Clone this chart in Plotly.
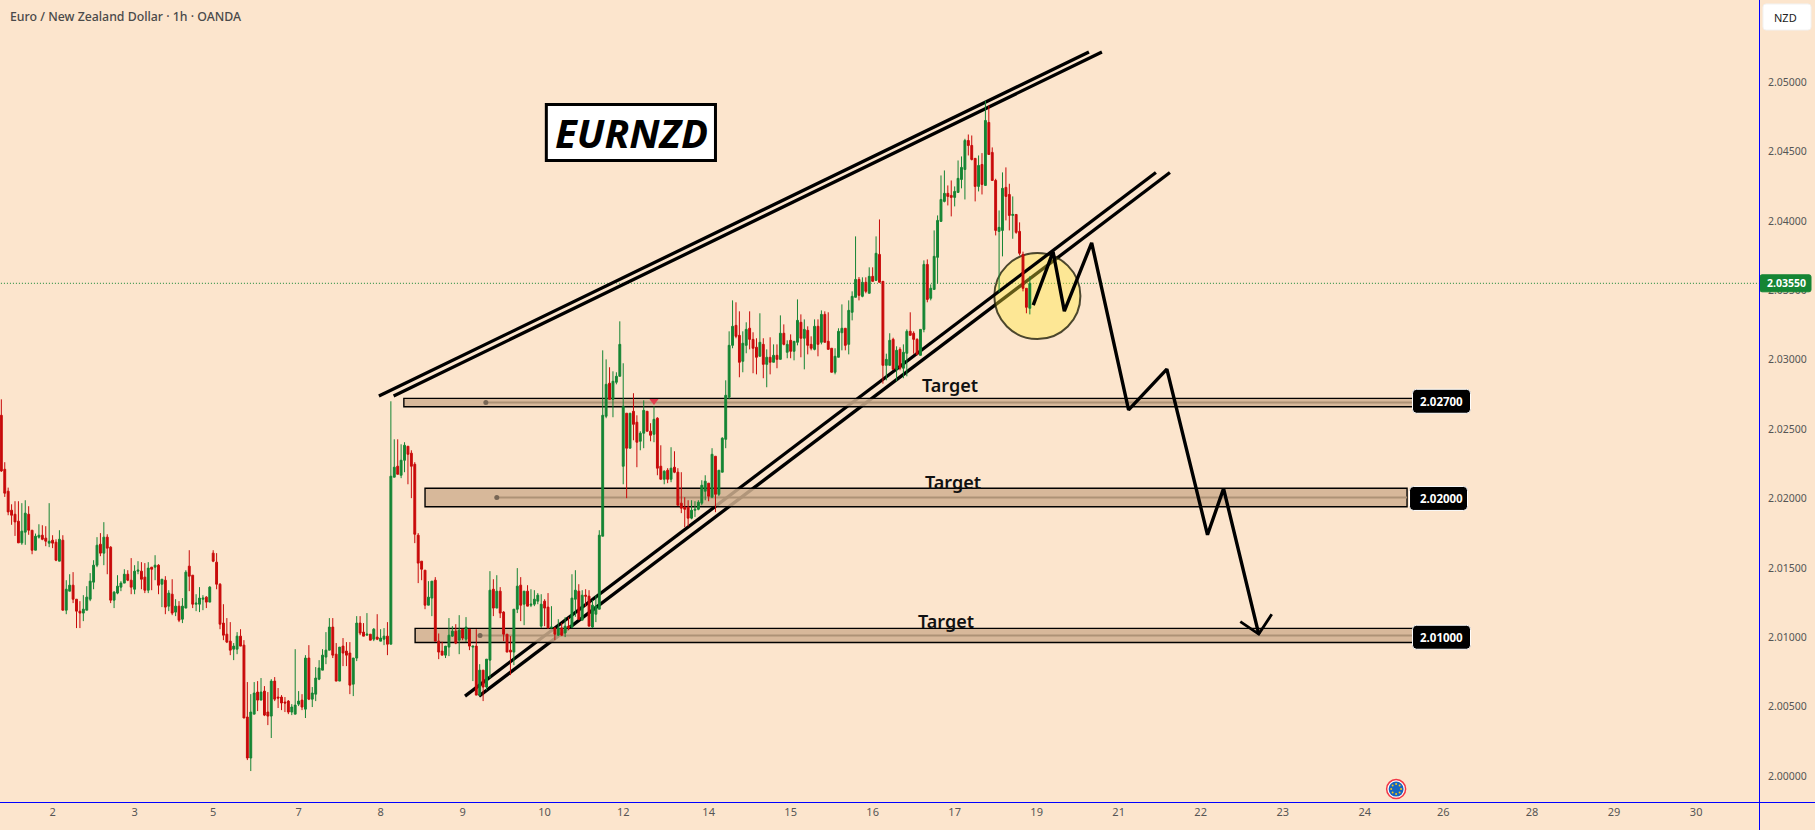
import numpy as np
import plotly.graph_objects as go

# EUR/NZD hourly candles, prices stored in points above the 2.00000 handle
BASE_PRICE = 2.0
POINT = 1e-5

open_pts = [
    2599,2210,2052,1915,1886,1836,1680,1757,1886,1771,
    1627,1721,1735,1714,1678,1699,1685,1548,1699,1195,
    1332,1375,1274,1188,1174,1195,1274,1397,1519,1670,
    1606,1721,1649,1267,1318,1361,1390,1454,1411,1346,
    1476,1476,1433,1339,1505,1505,1519,1382,1411,1224,
    1310,1181,1224,1130,1210,1512,1447,1238,1238,1274,
    1289,1253,1606,1541,1382,1102,1022,972,914,914,
    1008,943,425,130,446,605,547,612,461,432,
    684,569,569,533,540,461,446,518,547,482,
    850,554,590,698,763,857,907,1073,878,684,
    936,900,886,662,850,1102,1037,1015,1022,986,
    1001,972,986,1008,950,2153,2232,2167,2275,2376,
    2326,2246,1735,1548,1483,1231,1282,1411,972,900,
    871,929,1008,1044,979,1058,986,1058,929,936,
    583,763,641,835,1346,1210,1332,1181,1022,907,
    893,1202,1375,1238,1332,1231,1238,1260,1080,1260,
    1217,1066,1066,1015,1066,1030,1080,1073,1274,1332,
    1123,1303,1296,1073,1166,1202,1728,2592,2830,2714,
    2837,2880,2232,2614,2362,2628,2549,2412,2470,2628,
    2484,2462,2578,2232,2138,2203,2138,2225,2189,1966,
    1937,1937,1858,1915,1922,1966,2052,2110,2009,2304,
    2030,2189,2426,2729,3103,3247,3175,2988,3103,3226,
    3146,3089,3024,3110,2966,3017,2981,3031,3002,3190,
    3053,3139,3060,3125,3269,3154,3211,3110,3074,3240,
    3125,3326,3132,3082,2909,3017,3194,3226,3110,3341,
    3449,3578,3456,3557,3478,3600,3571,3758,3564,2959,
    2959,3146,2930,3074,2938,3046,3204,3190,3146,3031,
    3218,3686,3442,3506,3737,3996,4140,4198,4183,4169,
    4205,4298,4370,4579,4543,4450,4248,4406,4255,4709,
    4493,4291,3924,3931,4241,4190,4039,4046,3924,3758,
    3514,3370,
]
high_pts = [
    2714,2261,2078,1958,1980,1980,1966,1987,1944,1771,
    1747,1814,1807,1800,1966,1735,1706,1771,1735,1411,
    1454,1469,1274,1260,1303,1368,1462,1555,1721,1750,
    1829,1742,1656,1332,1447,1404,1490,1483,1570,1519,
    1548,1541,1534,1541,1505,1591,1526,1418,1440,1339,
    1418,1274,1260,1282,1483,1627,1447,1310,1361,1303,
    1296,1368,1627,1606,1390,1238,1138,1109,958,1037,
    1058,979,677,590,677,684,706,648,605,698,
    713,634,583,569,547,518,914,612,590,871,
    943,641,785,835,914,1037,1138,1138,958,929,
    994,965,965,850,1152,1152,1102,1174,1022,1066,
    1166,1058,1066,1109,2700,2426,2426,2390,2405,2376,
    2347,2261,1750,1548,1483,1404,1404,1433,1027,967,
    936,1138,1080,1094,1159,1058,1145,1058,936,1058,
    806,763,842,1476,1418,1447,1361,1188,1022,1008,
    1202,1498,1433,1332,1375,1346,1339,1318,1310,1274,
    1318,1224,1073,1130,1102,1145,1145,1454,1483,1382,
    1339,1346,1339,1267,1303,1771,3067,3002,2945,2916,
    2909,3276,2974,2614,2614,2758,2599,2484,2707,2628,
    2542,2664,2585,2383,2203,2218,2369,2340,2218,2189,
    2009,1987,1987,1980,1987,2131,2167,2110,2362,2304,
    2203,2441,2851,3204,3427,3413,3348,3204,3269,3348,
    3197,3154,3334,3154,3074,3161,3110,3110,3319,3254,
    3139,3182,3132,3434,3326,3290,3240,3168,3290,3290,
    3355,3348,3341,3082,3082,3226,3398,3226,3427,3492,
    3888,3595,3593,3593,3665,3665,3888,4010,3564,3043,
    3190,3158,3096,3089,3110,3218,3341,3204,3154,3218,
    3715,3722,3542,3931,4039,4327,4363,4255,4291,4248,
    4435,4464,4591,4622,4615,4450,4471,4488,4867,4831,
    4529,4303,4075,4349,4385,4267,4176,4046,3989,3778,
    3514,3600,
]
low_pts = [
    2191,2011,1879,1810,1730,1680,1666,1666,1738,1598,
    1627,1711,1699,1656,1649,1642,1548,1548,1195,1166,
    1332,1246,1066,1066,1116,1195,1260,1346,1505,1584,
    1519,1454,1246,1210,1310,1332,1390,1404,1310,1310,
    1454,1346,1318,1318,1339,1411,1310,1217,1166,1188,
    1159,1152,1109,1102,1210,1332,1210,1188,1181,1195,
    1210,1253,1541,1346,1058,979,958,871,835,878,
    936,418,115,36,446,468,547,432,367,274,
    540,490,475,461,446,439,446,504,475,418,
    547,497,540,691,763,806,907,850,684,684,
    792,792,590,576,828,1015,1008,1015,979,972,
    979,972,943,871,950,2153,2174,2146,2189,2102,
    2002,1678,1390,1411,1202,1231,1152,972,842,871,
    850,864,1003,950,878,979,965,907,684,583,
    576,540,619,706,1152,1210,1138,972,893,727,
    799,1174,1116,1087,1224,1217,1224,1238,1066,1080,
    1066,1066,979,1008,1008,1001,1051,1066,1147,1123,
    1123,1219,1080,1066,1109,1202,1728,2578,2714,2585,
    2822,2880,2102,2002,2362,2419,2225,2347,2362,2484,
    2412,2405,2167,2138,2102,2110,2117,2182,1951,1894,
    1793,1800,1850,1867,1915,1951,1987,1980,2002,1901,
    2016,2189,2362,2714,3082,3154,2873,2909,3046,3074,
    2902,2894,3024,2866,2801,2894,2981,2938,3002,3103,
    3010,3010,2995,3103,3017,2930,3038,3067,3067,3024,
    3110,3125,3074,2909,2894,3017,3067,3067,3038,3283,
    3449,3427,3449,3478,3478,3564,3571,3557,2827,2851,
    2959,2930,2844,2923,2866,2880,3175,3043,3031,3031,
    3197,3413,3427,3506,3547,3996,4133,4111,4032,4104,
    4205,4234,4154,4471,4435,4140,4212,4190,4255,4478,
    4291,3895,3485,3744,4003,3931,3871,3907,3751,3492,
    3334,3326,
]
close_pts = [
    2198,2038,1903,1879,1831,1680,1764,1894,1771,1627,
    1728,1735,1706,1692,1692,1678,1555,1706,1195,1346,
    1375,1274,1188,1174,1202,1289,1404,1519,1663,1606,
    1721,1642,1267,1325,1368,1390,1454,1411,1361,1476,
    1483,1418,1339,1498,1490,1519,1375,1418,1217,1318,
    1174,1224,1123,1224,1469,1440,1238,1246,1282,1282,
    1253,1361,1548,1382,1094,1015,965,907,936,1008,
    936,418,130,461,598,547,605,439,432,684,
    554,562,526,526,461,497,511,540,497,850,
    554,598,706,778,871,907,1073,871,684,929,
    886,871,655,850,1102,1030,1008,1022,979,1058,
    986,994,1008,950,2160,2225,2174,2275,2383,2318,
    2232,1742,1534,1490,1231,1289,1404,972,893,871,
    936,1015,1044,958,1051,994,1073,936,936,583,
    763,641,842,1339,1210,1332,1174,1022,893,893,
    1202,1368,1231,1332,1224,1238,1274,1303,1238,1210,
    1066,1073,1022,1066,1015,1080,1066,1282,1339,1130,
    1303,1296,1080,1231,1224,1735,2599,2822,2714,2844,
    2880,3110,2664,2362,2614,2534,2405,2470,2635,2484,
    2455,2570,2218,2138,2196,2138,2218,2189,1951,1930,
    1922,1858,1915,1922,1973,2095,2124,2016,2318,2030,
    2203,2434,2743,3103,3240,3168,2981,3118,3218,3146,
    3082,3017,3125,2966,3017,2981,3031,3002,3190,3110,
    3110,3060,3132,3283,3154,3218,3103,3082,3240,3110,
    3326,3125,3074,2909,3024,3204,3226,3103,3355,3456,
    3578,3463,3557,3492,3600,3564,3766,3557,2959,3002,
    3139,2930,3067,2938,3053,3204,3175,3146,3038,3218,
    3686,3434,3514,3744,4003,4154,4198,4176,4169,4212,
    4306,4385,4579,4543,4442,4248,4399,4262,4723,4478,
    4291,3931,3953,4234,4176,4039,4046,3917,3766,3514,
    3377,3550,
]
assert len(open_pts) == len(high_pts) == len(low_pts) == len(close_pts)

def to_price(points):
    return [round(BASE_PRICE + p * POINT, 5) for p in points]

bar_index = list(range(len(open_pts)))
last_price = 2.03550

# Day-of-month labels along the bar axis
day_ticks = [15, 39, 62, 87, 111, 135, 159, 182, 207, 231, 255, 279, 303, 327, 351, 375, 399, 422, 448, 472, 496]
day_labels = ["2", "3", "5", "7", "8", "9", "10", "12", "14", "15", "16", "17", "19", "21", "22", "23", "24", "26", "28", "29", "30"]
price_ticks = [2.0, 2.005, 2.01, 2.015, 2.02, 2.025, 2.03, 2.035, 2.04, 2.045, 2.05]

# Channels, as (bar, price) pairs
rising_top = [(110.5, 2.02738, 318.3, 2.05216), (114.8, 2.02738, 322.1, 2.05216)]
rising_bottom = [(135.7, 2.00576, 337.9, 2.04348), (139.8, 2.00576, 342.0, 2.04348)]

# Target zones: level, band edges, bar span, where the midline starts
zone_levels = [2.027, 2.020, 2.010]
zone_low = [2.02661, 2.01940, 2.00962]
zone_high = [2.02721, 2.02073, 2.01064]
zone_start = [117.8, 124.0, 121.1]
zone_end = [413.7, 411.4, 413.4]
zone_mid_start = [141.8, 145.0, 140.1]
target_bars = [277.6, 278.5, 276.5]
target_prices = [2.02815, 2.02115, 2.01115]

# Projected path after the retest
path_bars = [302.0, 307.8, 311.1, 319.1, 329.9, 341.1, 353.0, 357.7, 368.0]
path_prices = [2.03393, 2.03777, 2.03350, 2.03842, 2.02638, 2.02932, 2.01738, 2.02071, 2.01023]
head_bars = [362.6, 368.0, 371.8]
head_prices = [2.01112, 2.01023, 2.01165]

BG = "#fce5cd"
GREEN = "#158534"
RED = "#c80a0a"
BLUE = "#0000ff"
FONT = "Noto Sans"

fig = go.Figure()
fig.add_trace(go.Candlestick(
    x=bar_index, open=to_price(open_pts), high=to_price(high_pts),
    low=to_price(low_pts), close=to_price(close_pts),
    increasing=dict(line=dict(color=GREEN, width=1), fillcolor=GREEN),
    decreasing=dict(line=dict(color=RED, width=1), fillcolor=RED),
    whiskerwidth=0, showlegend=False, hoverinfo="skip",
))

shapes = []

def line_shape(x0, y0, x1, y1, color="#000000", width=3.3):
    shapes.append(dict(type="line", xref="x", yref="y", x0=x0, y0=y0, x1=x1, y1=y1,
                       line=dict(color=color, width=width), layer="below"))

def rounded_tag(xref, x, yref, y, left, right, half_h, radius, fill, edge=None):
    # Box sized in pixels and anchored on an axis or paper position
    r = radius
    path = (f"M {left+r},{half_h} L {right-r},{half_h} Q {right},{half_h} {right},{half_h-r} "
            f"L {right},{-half_h+r} Q {right},{-half_h} {right-r},{-half_h} "
            f"L {left+r},{-half_h} Q {left},{-half_h} {left},{-half_h+r} "
            f"L {left},{half_h-r} Q {left},{half_h} {left+r},{half_h} Z")
    shapes.append(dict(type="path", path=path, xref=xref, yref=yref,
                       xsizemode="pixel", ysizemode="pixel", xanchor=x, yanchor=y,
                       fillcolor=fill, layer="above",
                       line=dict(color=edge or fill, width=1)))

# Last price marker line
shapes.append(dict(type="line", xref="x", yref="y", x0=-1, x1=515, y0=last_price, y1=last_price,
                   line=dict(color=GREEN, width=1, dash="1px,2px"), layer="below"))

# Lower channel edge passes beneath the highlight circle
line_shape(*rising_bottom[1])
shapes.append(dict(type="circle", xref="x", yref="y", x0=290.6, x1=315.8, y0=2.03148, y1=2.03768,
                   fillcolor="rgba(255,235,59,0.38)", layer="below",
                   line=dict(color="rgba(30,30,10,0.8)", width=2)))
line_shape(*rising_bottom[0])
line_shape(*rising_top[0])
line_shape(*rising_top[1])

for low, high, x0, x1, mid_x, level in zip(zone_low, zone_high, zone_start, zone_end, zone_mid_start, zone_levels):
    shapes.append(dict(type="rect", xref="x", yref="y", x0=x0, x1=x1, y0=low, y1=high,
                       fillcolor="rgba(208,176,144,0.85)", layer="below",
                       line=dict(color="#000000", width=1.4)))
    line_shape(mid_x, (low + high) / 2, x1, (low + high) / 2, color="#ad9276", width=2)

# Black price flags at the end of each zone
tag_bar = 413.0
for level, left, right in zip(zone_levels, [0, -3, 0], [58, 55, 58]):
    rounded_tag("x", tag_bar, "y", level, left, right, 12, 4, "#000000", "#ffffff")

# Last price flag and the currency box on the price scale
rounded_tag("paper", 1.0, "y", last_price, 1, 52, 8.5, 2, GREEN)
rounded_tag("paper", 1.0, "paper", 1 - 17 / 802, 4, 52, 13, 3, "#ffffff", "#f2f2f2")

# Title plate
shapes.append(dict(type="rect", xref="x", yref="y", x0=159.5, x1=209.0, y0=2.04434, y1=2.04838,
                   fillcolor="#ffffff", layer="above", line=dict(color="#000000", width=3)))

# Axis borders run through the whole window, nudged half a pixel to stay crisp
border_x = 1759.5 / 1759
border_y = -0.5 / 802
shapes.append(dict(type="line", xref="paper", yref="paper", x0=border_x, x1=border_x, y0=-28 / 802, y1=1.0,
                   line=dict(color=BLUE, width=1), layer="above"))
shapes.append(dict(type="line", xref="paper", yref="paper", x0=0.0, x1=1815 / 1759, y0=border_y, y1=border_y,
                   line=dict(color=BLUE, width=1), layer="above"))

# Projected path and its arrow head
fig.add_trace(go.Scatter(x=path_bars, y=path_prices, mode="lines", showlegend=False, hoverinfo="skip",
                         line=dict(color="#000000", width=3.4, shape="linear")))
fig.add_trace(go.Scatter(x=head_bars, y=head_prices, mode="lines", showlegend=False, hoverinfo="skip",
                         line=dict(color="#000000", width=2.8)))

# Handles on the zones, dividend flag and the euro calendar marker
fig.add_trace(go.Scatter(x=zone_mid_start, y=[(a + b) / 2 for a, b in zip(zone_low, zone_high)],
                         mode="markers", showlegend=False, hoverinfo="skip",
                         marker=dict(symbol="circle", size=5, color="#776655")))
fig.add_trace(go.Scatter(x=[191.0], y=[2.02702], mode="markers", showlegend=False, hoverinfo="skip",
                         marker=dict(symbol="triangle-down", size=8, color="#e2404f")))
euro_bar, euro_price = 408.2, 1.99906
fig.add_trace(go.Scatter(x=[euro_bar], y=[euro_price], mode="markers", showlegend=False, hoverinfo="skip",
                         marker=dict(size=19, color="#ffffff", line=dict(color="#f23645", width=1.5))))
fig.add_trace(go.Scatter(x=[euro_bar], y=[euro_price], mode="markers", showlegend=False, hoverinfo="skip",
                         marker=dict(size=15, color="#1565c0")))
angles = np.arange(0, 360, 45) * np.pi / 180
fig.add_trace(go.Scatter(x=euro_bar + 1.45 * np.cos(angles), y=euro_price + 0.00036 * np.sin(angles),
                         mode="markers", showlegend=False, hoverinfo="skip",
                         marker=dict(size=2, color="#f5c518")))

annotations = [
    dict(text="Euro / New Zealand Dollar · 1h · OANDA", xref="paper", yref="paper",
         x=8 / 1759, y=1 - 16.5 / 802, xanchor="left", yanchor="middle", showarrow=False,
         font=dict(family=FONT, size=12.3, color="#4a4a4a", weight=500)),
    dict(text="<b><i>EURNZD</i></b>", xref="x", yref="y", x=184.3, y=2.04637, showarrow=False,
         xanchor="center", yanchor="middle", font=dict(family=FONT, size=40, color="#000000")),
    dict(text="<b>2.03550</b>", xref="paper", yref="y", x=1787 / 1759, y=last_price, showarrow=False,
         xanchor="center", yanchor="middle", font=dict(family=FONT, size=10.5, color="#ffffff")),
    dict(text="NZD", xref="paper", yref="paper", x=1772 / 1759, y=1 - 17.5 / 802, showarrow=False,
         xanchor="left", yanchor="middle", font=dict(family=FONT, size=11, color="#222222")),
]
for bar, price in zip(target_bars, target_prices):
    annotations.append(dict(text="Target", xref="x", yref="y", x=bar, y=price, showarrow=False,
                            xanchor="center", yanchor="middle",
                            font=dict(family=FONT, size=18, color="#111111", weight=600)))
for level, label in zip(zone_levels, ["2.02700", "2.02000", "2.01000"]):
    annotations.append(dict(text=f"<b>{label}</b>", xref="x", yref="y", x=421.5, y=level, showarrow=False,
                            xanchor="center", yanchor="middle",
                            font=dict(family=FONT, size=11.5, color="#ffffff")))

fig.update_layout(
    width=1815, height=830, autosize=False,
    margin=dict(l=0, r=56, t=0, b=28),
    paper_bgcolor=BG, plot_bgcolor=BG,
    showlegend=False, boxgap=0.22,
    shapes=shapes, annotations=annotations,
    xaxis=dict(range=[-0.39, 514.4], rangeslider=dict(visible=False), showgrid=False, zeroline=False,
               tickmode="array", tickvals=day_ticks, ticktext=day_labels, ticks="", showline=False,
               tickfont=dict(family=FONT, size=11, color="#555555"), ticklabelstandoff=2, tickangle=0),
    yaxis=dict(range=[1.99813, 2.05591], side="right", showgrid=False, zeroline=False, showline=False,
               tickmode="array", tickvals=price_ticks, ticktext=[f"{v:.5f}" for v in price_ticks], ticks="",
               tickfont=dict(family=FONT, size=10.5, color="#555555"), ticklabelstandoff=8),
)

fig.write_html("out.html")
